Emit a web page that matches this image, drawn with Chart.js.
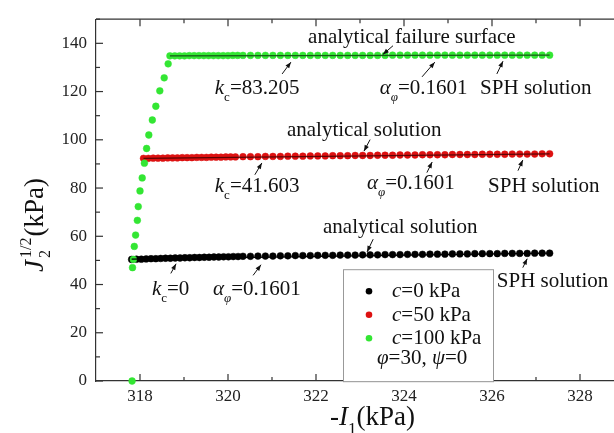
<!DOCTYPE html>
<html>
<head>
<meta charset="utf-8">
<script src="https://cdn.jsdelivr.net/npm/chart.js@4/dist/chart.umd.min.js"></script>
<style>
  html, body { margin: 0; padding: 0; background: #fff; overflow: hidden; }
  #wrap { width: 680px; height: 433px; }
</style>
</head>
<body>
<div id="wrap"><canvas id="chart" width="680" height="433"></canvas></div>
<script>
// -I1 (kPa)
const i1Tail = [320.34, 320.51, 320.68, 320.85, 321.02, 321.19, 321.36, 321.53, 321.70, 321.87,
  322.04, 322.21, 322.38, 322.55, 322.72, 322.89, 323.06, 323.23, 323.40, 323.57,
  323.74, 323.91, 324.08, 324.25, 324.42, 324.59, 324.76, 324.93, 325.10, 325.27,
  325.44, 325.61, 325.78, 325.95, 326.12, 326.29, 326.46, 326.63, 326.80, 326.97,
  327.14, 327.31];
const i1BlackHead = [317.81, 317.92, 318.03, 318.14, 318.25, 318.36, 318.47, 318.58, 318.69, 318.80,
  318.91, 319.02, 319.13, 319.24, 319.35, 319.46, 319.57, 319.68, 319.79, 319.90,
  320.01, 320.12, 320.23];
const i1RedHead = [318.08, 318.19, 318.30, 318.41, 318.52, 318.63, 318.74, 318.85, 318.96, 319.07,
  319.18, 319.29, 319.40, 319.51, 319.62, 319.73, 319.84, 319.95, 320.06, 320.17];
const i1GreenRise = [317.82, 317.83, 317.85, 317.87, 317.90, 317.94, 317.96, 318.00, 318.05, 318.10,
  318.15, 318.20, 318.28, 318.36, 318.45, 318.55, 318.64];
const i1GreenHead = [318.68, 318.79, 318.90, 319.01, 319.12, 319.23, 319.34, 319.45, 319.56, 319.67,
  319.78, 319.89, 320.00, 320.11, 320.22];

// J2^(1/2) (kPa)
const j2Black = [50.4, 50.5, 50.5, 50.6, 50.7, 50.7, 50.8, 50.9, 50.9, 51.0,
  51.0, 51.1, 51.1, 51.2, 51.2, 51.3, 51.3, 51.4, 51.4, 51.5,
  51.5, 51.6, 51.6,
  51.7, 51.7, 51.8, 51.8, 51.8, 51.9, 51.9, 52.0, 52.0, 52.0,
  52.1, 52.1, 52.1, 52.2, 52.2, 52.2, 52.3, 52.3, 52.3, 52.4,
  52.4, 52.4, 52.5, 52.5, 52.5, 52.6, 52.6, 52.6, 52.7, 52.7,
  52.7, 52.8, 52.8, 52.8, 52.8, 52.9, 52.9, 52.9, 52.9, 53.0,
  53.0, 53.0];
const j2Red = [92.3, 92.3, 92.4, 92.4, 92.4, 92.5, 92.5, 92.5, 92.6, 92.6,
  92.6, 92.7, 92.7, 92.7, 92.8, 92.8, 92.8, 92.9, 92.9, 92.9,
  93.0, 93.0, 93.0, 93.1, 93.1, 93.1, 93.2, 93.2, 93.2, 93.3,
  93.3, 93.3, 93.4, 93.4, 93.4, 93.5, 93.5, 93.5, 93.6, 93.6,
  93.6, 93.7, 93.7, 93.7, 93.8, 93.8, 93.8, 93.8, 93.9, 93.9,
  93.9, 93.9, 94.0, 94.0, 94.0, 94.0, 94.1, 94.1, 94.1, 94.1,
  94.2, 94.2];
const j2GreenRise = [0, 47.0, 50.4, 55.8, 60.5, 66.6, 72.3, 78.8, 84.2, 90.3,
  96.4, 102.0, 108.2, 113.9, 120.3, 125.7, 131.5];
const j2GreenFlat = [134.8, 134.8, 134.8, 134.8, 134.9, 134.9, 134.9, 134.9, 134.9, 134.9,
  134.9, 134.9, 134.9, 135.0, 135.0,
  135.0, 135.0, 135.0, 135.0, 135.0, 135.0, 135.0, 135.0, 135.0, 135.0,
  135.0, 135.0, 135.0, 135.0, 135.0, 135.0, 135.0, 135.0, 135.0, 135.0,
  135.1, 135.1, 135.1, 135.1, 135.1, 135.1, 135.1, 135.1, 135.1, 135.1,
  135.1, 135.1, 135.1, 135.1, 135.1, 135.1, 135.1, 135.1, 135.1, 135.1,
  135.1, 135.1];

// analytical lines (end points)
const analyticI1Black = [317.81, 327.31];
const analyticJ2Black = [50.5, 53.0];
const analyticI1Red = [318.08, 327.31];
const analyticJ2Red = [92.3, 94.2];
const analyticI1Green = [318.68, 327.31];
const analyticJ2Green = [134.8, 135.1];

const xTickValues = [318, 320, 322, 324, 326, 328];
const yTickValues = [0, 20, 40, 60, 80, 100, 120, 140];
const seriesNames = ['0', '50', '100'];
const seriesColors = ['#000000', '#dd1111', '#33e633'];

const FONT = '"Liberation Serif", "Times New Roman", serif';

function pairs(xs, ys) {
  return xs.map((x, i) => ({ x: x, y: ys[i] }));
}

// draw a run of text pieces: [text, style] where style is '', 'i', 'sub', 'isub'
function richText(ctx, parts, x, y, size) {
  let cx = x;
  parts.forEach(p => {
    const t = p[0], st = p[1] || '';
    let fs = size, dy = 0;
    if (st.includes('sub')) { fs = Math.round(size * 0.62); dy = size * 0.33; }
    ctx.font = (st.includes('i') ? 'italic ' : '') + fs + 'px ' + FONT;
    ctx.fillText(t, cx, y + dy);
    cx += ctx.measureText(t).width;
  });
  return cx;
}

function arrow(ctx, x1, y1, x2, y2) {
  const a = Math.atan2(y2 - y1, x2 - x1);
  ctx.beginPath();
  ctx.moveTo(x1, y1);
  ctx.lineTo(x2, y2);
  ctx.stroke();
  ctx.beginPath();
  ctx.moveTo(x2, y2);
  ctx.lineTo(x2 - 6 * Math.cos(a) + 2.3 * Math.sin(a), y2 - 6 * Math.sin(a) - 2.3 * Math.cos(a));
  ctx.lineTo(x2 - 6 * Math.cos(a) - 2.3 * Math.sin(a), y2 - 6 * Math.sin(a) + 2.3 * Math.cos(a));
  ctx.closePath();
  ctx.fill();
}

const kc = v => [['k', 'i'], ['c', 'sub'], ['=' + v]];
const alpha = [['α', 'i'], ['φ', 'isub'], ['=0.1601']];
const sph = [['SPH solution']];

// text labels and arrows, placed in data units
const notes = [
  { parts: [['analytical failure surface']], at: [321.82, 140.3], tail: [323.75, 139.0], head: [323.52, 135.4] },
  { parts: kc('83.205'), at: [319.70, 118.8], tail: [321.23, 127.3], head: [321.43, 132.2] },
  { parts: alpha, at: [323.45, 118.8], tail: [324.41, 126.1], head: [324.70, 132.2] },
  { parts: sph, at: [325.73, 118.8], tail: [326.11, 127.3], head: [326.25, 132.6] },

  { parts: [['analytical solution']], at: [321.34, 101.4], tail: [323.23, 100.1], head: [323.09, 95.3] },
  { parts: kc('41.603'), at: [319.70, 78.2], tail: [320.61, 85.5], head: [320.77, 90.4] },
  { parts: alpha, at: [323.16, 79.5], tail: [324.52, 86.4], head: [324.64, 90.8] },
  { parts: sph, at: [325.91, 78.2], tail: [326.59, 87.2], head: [326.70, 91.6] },

  { parts: [['analytical solution']], at: [322.16, 61.2], tail: [323.30, 58.8], head: [323.16, 53.5] },
  { parts: kc('0'), at: [318.27, 35.7], tail: [318.70, 44.6], head: [318.82, 48.6] },
  { parts: alpha, at: [319.66, 35.7], tail: [320.57, 43.8], head: [320.75, 48.2] },
  { parts: sph, at: [326.11, 38.9], tail: [326.70, 47.0], head: [326.80, 50.7] }
];

const decorPlugin = {
  id: 'decor',
  afterDraw(chart) {
    const ctx = chart.ctx;
    const xs = chart.scales.x, ys = chart.scales.y;
    const { left, right, top, bottom } = chart.chartArea;
    ctx.save();

    // top frame line and inward ticks
    ctx.strokeStyle = '#333';
    ctx.lineWidth = 1.2;
    ctx.beginPath();
    ctx.moveTo(left, top);
    ctx.lineTo(right, top);
    ctx.stroke();
    for (let v = 318; v <= 329; v++) {
      const px = xs.getPixelForValue(v);
      const len = v % 2 === 0 ? 7 : 4;
      ctx.beginPath();
      ctx.moveTo(px, bottom); ctx.lineTo(px, bottom - len);
      ctx.moveTo(px, top); ctx.lineTo(px, top + len);
      ctx.stroke();
    }
    for (let v = 0; v <= 150; v += 10) {
      const py = ys.getPixelForValue(v);
      const len = v % 20 === 0 ? 7 : 4;
      ctx.beginPath();
      ctx.moveTo(left, py); ctx.lineTo(left + len, py);
      ctx.stroke();
    }

    // annotations
    ctx.fillStyle = '#111';
    ctx.strokeStyle = '#111';
    ctx.lineWidth = 1;
    ctx.textBaseline = 'alphabetic';
    ctx.textAlign = 'left';
    notes.forEach(n => {
      richText(ctx, n.parts, xs.getPixelForValue(n.at[0]), ys.getPixelForValue(n.at[1]), 21);
      arrow(ctx, xs.getPixelForValue(n.tail[0]), ys.getPixelForValue(n.tail[1]),
        xs.getPixelForValue(n.head[0]), ys.getPixelForValue(n.head[1]));
    });

    // legend box
    const bx = left + 247, by = top + 250, bw = 150, bh = 112;
    ctx.fillStyle = '#fff';
    ctx.fillRect(bx, by, bw, bh);
    ctx.strokeStyle = '#999';
    ctx.lineWidth = 1;
    ctx.strokeRect(bx + 0.5, by + 0.5, bw, bh);
    seriesNames.forEach((name, i) => {
      const cy = by + 22 + i * 23.5;
      ctx.fillStyle = seriesColors[i];
      ctx.beginPath();
      ctx.arc(bx + 26, cy, 3.3, 0, Math.PI * 2);
      ctx.fill();
      ctx.fillStyle = '#111';
      richText(ctx, [['c', 'i'], ['=' + name + ' kPa']], bx + 49, cy + 6, 21);
    });
    ctx.fillStyle = '#111';
    richText(ctx, [['φ', 'i'], ['=30, '], ['ψ', 'i'], ['=0']], bx + 34, by + 95, 21);

    // axis titles
    const xt = left + 234, yt = 425;
    let cx = richText(ctx, [['-'], ['I', 'i'], ['1', 'sub'], ['(kPa)']], xt, yt, 27);

    ctx.translate(43, 272);
    ctx.rotate(-Math.PI / 2);
    ctx.font = 'italic 27px ' + FONT;
    ctx.fillText('J', 0, 0);
    let w = ctx.measureText('J').width + 2;
    ctx.font = '16px ' + FONT;
    ctx.fillText('1/2', w, -12);
    ctx.fillText('2', w, 7);
    w += ctx.measureText('1/2').width + 1;
    ctx.font = '27px ' + FONT;
    ctx.fillText('(kPa)', w, 0);

    ctx.restore();
  }
};

const pointStyle = color => ({
  showLine: false,
  backgroundColor: color,
  borderColor: color,
  pointRadius: 3.4,
  pointBorderWidth: 0.5
});

const lineStyle = color => ({
  showLine: true,
  borderColor: color,
  borderWidth: 1.2,
  pointRadius: 0,
  fill: false,
  order: 0
});

new Chart(document.getElementById('chart'), {
  type: 'scatter',
  data: {
    datasets: [
      Object.assign({ label: 'c=0 kPa', data: pairs(i1BlackHead.concat(i1Tail), j2Black), order: 3 }, pointStyle(seriesColors[0])),
      Object.assign({ label: 'c=50 kPa', data: pairs(i1RedHead.concat(i1Tail), j2Red), order: 2 }, pointStyle(seriesColors[1])),
      Object.assign({ label: 'c=100 kPa', data: pairs(i1GreenRise.concat(i1GreenHead, i1Tail), j2GreenRise.concat(j2GreenFlat)), order: 1, clip: false }, pointStyle(seriesColors[2])),
      Object.assign({ label: 'analytical c=0', data: pairs(analyticI1Black, analyticJ2Black) }, lineStyle('#000')),
      Object.assign({ label: 'analytical c=50', data: pairs(analyticI1Red, analyticJ2Red) }, lineStyle('rgba(60,0,0,0.8)')),
      Object.assign({ label: 'analytical c=100', data: pairs(analyticI1Green, analyticJ2Green) }, lineStyle('rgba(20,60,20,0.85)'))
    ]
  },
  options: {
    responsive: false,
    animation: false,
    layout: { padding: { left: 0, top: 11, right: 12, bottom: 0 } },
    plugins: { legend: { display: false }, tooltip: { enabled: false } },
    scales: {
      x: {
        type: 'linear',
        min: 317,
        max: 330,
        grid: { display: false, drawTicks: false },
        border: { display: true, color: '#333', width: 1.2 },
        ticks: { color: '#222', padding: 5, font: { family: FONT, size: 17 } },
        afterBuildTicks: s => { s.ticks = xTickValues.map(v => ({ value: v })); },
        afterFit: s => { s.height = 52; }
      },
      y: {
        type: 'linear',
        min: 0,
        max: 150,
        grid: { display: false, drawTicks: false },
        border: { display: true, color: '#333', width: 1.2 },
        ticks: { color: '#222', padding: 9, font: { family: FONT, size: 17 } },
        afterBuildTicks: s => { s.ticks = yTickValues.map(v => ({ value: v })); },
        afterFit: s => { s.width = 96; }
      }
    }
  },
  plugins: [decorPlugin]
});
</script>
</body>
</html>
